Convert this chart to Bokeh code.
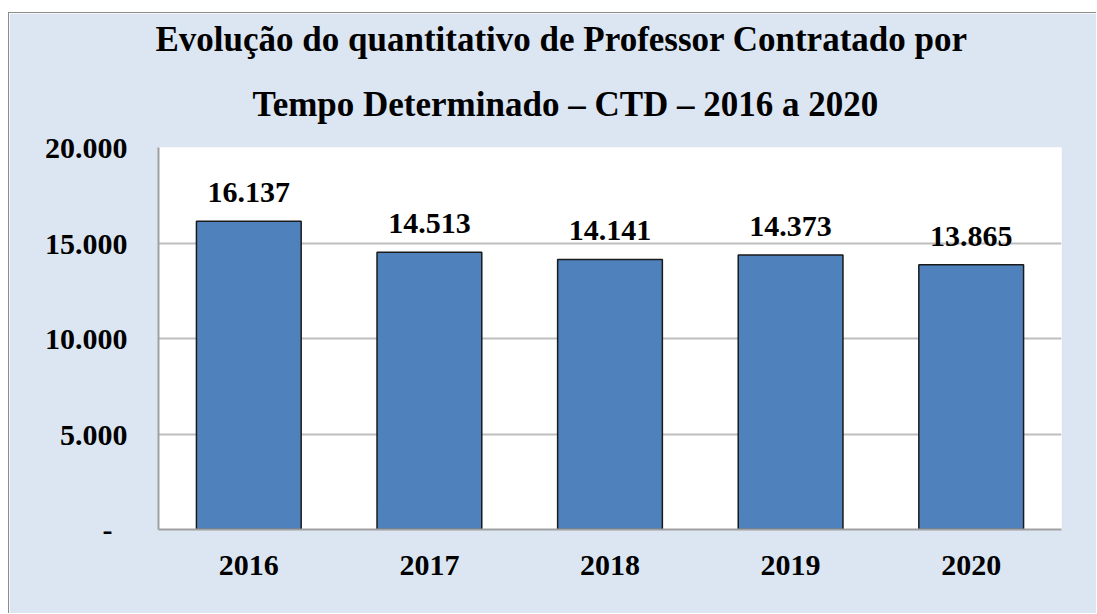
from bokeh.plotting import figure
from bokeh.models import ColumnDataSource, FixedTicker, LabelSet, Title, FactorRange, Range1d
from bokeh.embed import file_html
from bokeh.resources import INLINE

years = ["2016", "2017", "2018", "2019", "2020"]
values = [16137, 14513, 14141, 14373, 13865]
y_ticks = [0, 5000, 10000, 15000, 20000]
y_tick_labels = ["-\u00a0\u00a0", "5.000", "10.000", "15.000", "20.000"]
title_lines = ["Evolução do quantitativo de Professor Contratado por",
               "Tempo Determinado – CTD – 2016 a 2020"]

labels = [f"{v:,}".replace(",", ".") for v in values]
src = ColumnDataSource(dict(x=years, top=values, lab=labels))

BG = "#dce6f2"
FONT = "Liberation Serif"

p = figure(x_range=FactorRange(*years, range_padding=0), y_range=Range1d(0, 20000),
           width=1088, height=601, output_backend="svg", toolbar_location=None,
           min_border_left=149, min_border_top=134, min_border_right=36, min_border_bottom=85)
p.styles = {"margin-left": "8px", "margin-top": "12px",
            "border-left": "1px solid #8c8c8c", "border-top": "1px solid #8c8c8c"}
p.background_fill_color = "white"
p.border_fill_color = BG
p.outline_line_color = None

p.vbar(x="x", top="top", width=0.58, source=src, fill_color="#4f81bd",
       line_color="#1a1a1a", line_width=1.5)

p.add_layout(LabelSet(x="x", y="top", text="lab", source=src, y_offset=19,
                      text_align="center", text_baseline="bottom",
                      text_font=FONT, text_font_style="bold", text_font_size="30px",
                      text_color="black"))

t2 = Title(text=title_lines[1], align="left", offset=94, text_font=FONT,
           text_font_style="bold", text_font_size="35px", text_color="black",
           standoff=48)
t1 = Title(text=title_lines[0], align="left", offset=-3, text_font=FONT,
           text_font_style="bold", text_font_size="35px", text_color="black",
           standoff=0)
p.add_layout(t2, "above")
p.add_layout(t1, "above")

p.yaxis.ticker = FixedTicker(ticks=y_ticks)
p.yaxis.major_label_overrides = {k: v for k, v in zip(y_ticks, y_tick_labels)}
for ax in (p.xaxis, p.yaxis):
    ax.major_label_text_font = FONT
    ax.major_label_text_font_style = "bold"
    ax.major_label_text_font_size = "30px"
    ax.major_label_text_color = "black"
    ax.major_tick_line_color = None
    ax.minor_tick_line_color = None
    ax.axis_line_color = "#a0a0a0"
    ax.axis_line_width = 2
p.yaxis.major_label_standoff = 25
p.xaxis.major_label_standoff = 20

p.xgrid.grid_line_color = None
p.ygrid.ticker = FixedTicker(ticks=y_ticks)
p.ygrid.grid_line_color = "#bebebe"
p.ygrid.grid_line_width = 2

open("out.html", "w").write(file_html(p, INLINE))
